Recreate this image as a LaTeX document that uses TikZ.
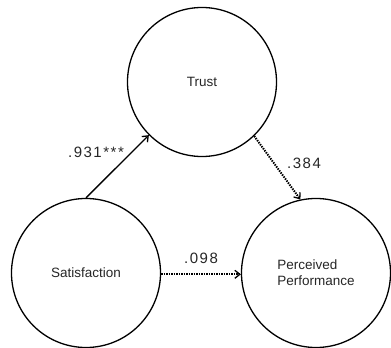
\documentclass[tikz,border=0pt]{standalone}
\usepackage{fontspec}
\setmainfont{Liberation Sans}
\newfontfamily\numfont[LetterSpace=10]{Liberation Sans}
\usetikzlibrary{arrows.meta}
\begin{document}
\begin{tikzpicture}[x=1pt,y=1pt,
  latent/.style={circle,draw,line width=1.3pt,minimum size=149pt,inner sep=0pt,font=\fontsize{13.5}{16}\selectfont,text=black!85},
  coef/.style={font=\numfont\fontsize{15}{17}\selectfont,text=black!85,inner sep=0pt},
  solidarrow/.style={line width=1.3pt,-{Straight Barb[length=5pt,width=8pt,line width=1.3pt]}},
  dotarrow/.style={line width=2pt,dash pattern=on 1.4pt off 1.1pt,-{Straight Barb[length=5pt,width=8pt,line width=1.3pt]}}]
\useasboundingbox (0,0) rectangle (391,348);
\node[latent] (trust) at (202,266) {Trust};
\node[latent] (sat) at (86,75) {Satisfaction};
\node[latent,align=left] (perc) at (316,75) {Perceived\\Performance};
\draw[solidarrow] (sat.north) -- (trust.225);
\draw[dotarrow] (trust.-46) -- (perc.102);
\draw[dotarrow] (sat.-1) -- (perc.181);
\node[coef] (c1) at (96,196) {.931***};
\node[coef] (c2) at (304,185) {.384};
\node[coef] (c3) at (201,90) {.098};
\end{tikzpicture}
\end{document}
